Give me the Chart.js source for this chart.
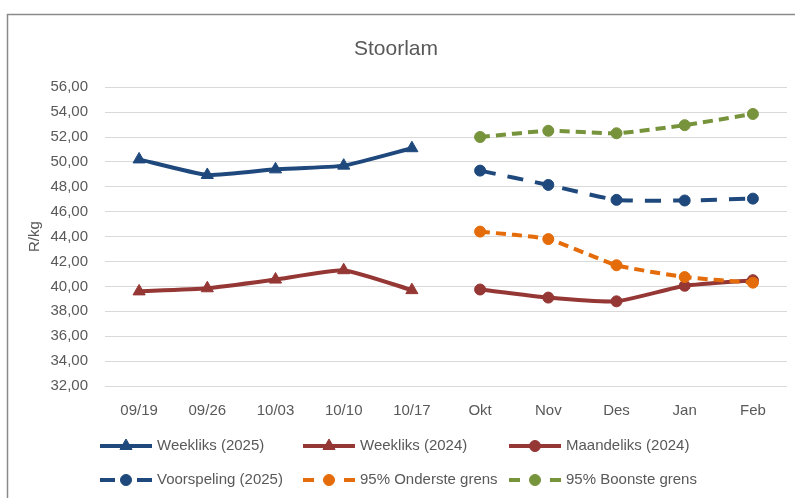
<!DOCTYPE html>
<html>
<head>
<meta charset="utf-8">
<script src="https://cdn.jsdelivr.net/npm/chart.js@4"></script>
<style>
  body { margin: 0; background: #fff; }
  #wrap { width: 795px; height: 498px; }
</style>
</head>
<body>
<div id="wrap"><canvas id="chart" width="795" height="498"></canvas></div>
<script>
const categories = ['09/19', '09/26', '10/03', '10/10', '10/17', 'Okt', 'Nov', 'Des', 'Jan', 'Feb'];

const weekliks2025 = [50.2, 48.95, 49.4, 49.7, 51.1, null, null, null, null, null];
const weekliks2024 = [39.6, 39.85, 40.55, 41.3, 39.7, null, null, null, null, null];
const maandeliks2024 = [null, null, null, null, null, 39.75, 39.1, 38.8, 40.05, 40.5];
const voorspeling2025 = [null, null, null, null, null, 49.3, 48.15, 46.95, 46.9, 47.05];
const onderste95 = [null, null, null, null, null, 44.4, 43.8, 41.7, 40.75, 40.3];
const boonste95 = [null, null, null, null, null, 52.0, 52.5, 52.3, 52.95, 53.85];

const blue = '#1F497D';
const red = '#953735';
const orange = '#E46C0A';
const green = '#77933C';
const textGrey = '#595959';
const fontFam = '"Liberation Sans", Arial, sans-serif';

function series(label, data, color, style, dash) {
    return {
        label: label,
        data: data,
        borderColor: color,
        backgroundColor: color,
        borderWidth: 4,
        borderDash: dash || [],
        pointStyle: style,
        pointRadius: style === 'triangle' ? 7 : 5.5,
        pointBorderWidth: 1,
        pointBackgroundColor: color,
        pointBorderColor: color,
        tension: 0.15,
        spanGaps: false
    };
}

const datasets = [
    series('Weekliks (2025)', weekliks2025, blue, 'triangle'),
    series('Weekliks (2024)', weekliks2024, red, 'triangle'),
    series('Maandeliks (2024)', maandeliks2024, red, 'circle'),
    series('Voorspeling (2025)', voorspeling2025, blue, 'circle', [16, 12]),
    series('95% Onderste grens', onderste95, orange, 'circle', [10, 6]),
    series('95% Boonste grens', boonste95, green, 'circle', [10, 6])
];
// later series on top, like excel
datasets.forEach((d, i) => { d.order = -i; });

// frame and white background
const framePlugin = {
    id: 'frame',
    beforeDraw(chart) {
        const ctx = chart.ctx;
        ctx.save();
        ctx.fillStyle = '#fff';
        ctx.fillRect(0, 0, chart.width, chart.height);
        ctx.strokeStyle = '#8a8a8a';
        ctx.lineWidth = 1.5;
        ctx.strokeRect(7.5, 14.5, chart.width + 20, chart.height + 20);
        ctx.restore();
    }
};

// excel style legend, 3 columns x 2 rows
const legendCols = [100, 303, 509];
const legendRows = [446, 480];
const legendPlugin = {
    id: 'xlLegend',
    afterDraw(chart) {
        const ctx = chart.ctx;
        ctx.save();
        chart.data.datasets.forEach((ds, i) => {
            const x = legendCols[i % 3];
            const y = legendRows[Math.floor(i / 3)];
            const w = 52;
            ctx.strokeStyle = ds.borderColor;
            ctx.fillStyle = ds.borderColor;
            ctx.lineWidth = 4;
            ctx.lineCap = 'butt';
            ctx.beginPath();
            if (ds.borderDash.length) {
                const d = ds.borderDash[0] > 12 ? 15 : 11;
                ctx.moveTo(x, y); ctx.lineTo(x + d, y);
                ctx.moveTo(x + w - d, y); ctx.lineTo(x + w, y);
            } else {
                ctx.moveTo(x, y); ctx.lineTo(x + w, y);
            }
            ctx.stroke();
            ctx.lineWidth = 1;
            Chart.helpers.drawPoint(ctx, {
                pointStyle: ds.pointStyle,
                radius: ds.pointStyle === 'triangle' ? 7 : 5.5,
                rotation: 0,
                borderWidth: 1
            }, x + w / 2, y);
            ctx.fillStyle = textGrey;
            ctx.font = '15px ' + fontFam;
            ctx.textBaseline = 'middle';
            ctx.textAlign = 'left';
            ctx.fillText(ds.label, x + w + 5, y);
        });
        ctx.restore();
    }
};

new Chart(document.getElementById('chart'), {
    type: 'line',
    data: {
        labels: categories,
        datasets: datasets
    },
    plugins: [framePlugin, legendPlugin],
    options: {
        responsive: false,
        animation: false,
        layout: {
            padding: { left: 0, right: 3, top: 0, bottom: 0 }
        },
        plugins: {
            legend: { display: false },
            tooltip: { enabled: false },
            title: {
                display: true,
                text: 'Stoorlam',
                color: textGrey,
                font: { family: fontFam, size: 21, weight: 'normal' },
                padding: { top: 37, bottom: 25 }
            }
        },
        scales: {
            x: {
                offset: true,
                grid: { display: false, drawTicks: false },
                border: { display: false },
                ticks: {
                    color: textGrey,
                    font: { family: fontFam, size: 15 },
                    padding: 16,
                    maxRotation: 0,
                    autoSkip: false
                },
                afterFit: s => { s.height = 112; }
            },
            y: {
                min: 32,
                max: 56,
                grid: { color: '#D9D9D9', lineWidth: 1, drawTicks: false },
                border: { display: false },
                ticks: {
                    stepSize: 2,
                    color: textGrey,
                    font: { family: fontFam, size: 15 },
                    padding: 17,
                    callback: v => v.toFixed(2).replace('.', ',')
                },
                title: {
                    display: true,
                    text: 'R/kg',
                    color: textGrey,
                    font: { family: fontFam, size: 15 },
                    padding: { top: 26, bottom: 0 }
                },
                afterFit: s => { s.width = 105; }
            }
        }
    }
});
</script>
</body>
</html>
